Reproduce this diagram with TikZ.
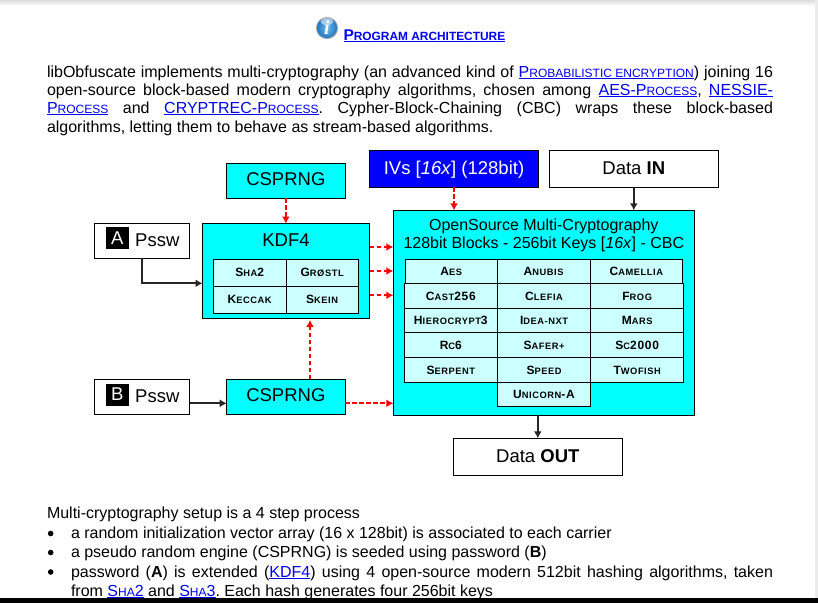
\documentclass[tikz,border=0pt]{standalone}
\usepackage{fontspec}
\setmainfont{Liberation Sans}
\newfontfamily\cellfont[LetterSpace=6]{Liberation Sans}
\newfontfamily\iconfont{Liberation Serif}
\usetikzlibrary{arrows.meta,calc}
\definecolor{cyanbox}{HTML}{00FFFF}
\definecolor{cellfill}{HTML}{CCFFFF}
\definecolor{linkblue}{HTML}{0000F0}
\definecolor{ivblue}{HTML}{0000FF}
\definecolor{iconin}{HTML}{6FBDE8}
\definecolor{iconout}{HTML}{1F74BE}
\newcommand\smallcp[1]{{\fontsize{12}{12}\selectfont #1}}
\newcommand\cellsm[1]{{\fontsize{9.3}{9.3}\selectfont #1}}
\newcommand\lnk[1]{\textcolor{linkblue}{\underline{#1}}}
\newcommand\placebox[7]{%
  \pgfmathsetmacro\bxCX{(#2+#4)/2}%
  \pgfmathsetmacro\bxCY{(#3+#5)/2}%
  \pgfmathsetmacro\bxW{#4-#2}%
  \pgfmathsetmacro\bxH{#5-#3}%
  \node[#6,minimum width=\bxW pt,minimum height=\bxH pt] (#1) at (\bxCX,\bxCY) {#7};}
\tikzset{
  boxbase/.style={draw=black,line width=1pt,inner sep=0pt,outer sep=0pt,align=center},
  whitebox/.style={boxbase,fill=white,text height=13pt,text depth=2pt,font=\fontsize{18.5}{20}\selectfont},
  cyanb/.style={boxbase,fill=cyanbox,text height=13pt,text depth=3.5pt,font=\fontsize{18.5}{20}\selectfont},
  bluebox/.style={boxbase,fill=ivblue,text=white,text height=13pt,text depth=2pt,font=\fontsize{18.5}{20}\selectfont},
  cellb/.style={boxbase,fill=cellfill,font=\cellfont\bfseries\fontsize{12}{12}\selectfont},
  bodytext/.style={anchor=base west,inner sep=0pt,outer sep=0pt,font=\fontsize{16}{18}\selectfont},
  tagbox/.style={fill=black,text=white,inner sep=0pt,minimum width=22.5pt,minimum height=22pt,font=\fontsize{18.5}{20}\selectfont},
  pswtext/.style={anchor=base west,inner sep=0pt,font=\fontsize{18.5}{20}\selectfont},
  redarrow/.style={draw=red,line width=2.3pt,dash pattern=on 4.5pt off 2.5pt,-{Latex[length=7pt,width=8pt]}},
  blackarrow/.style={draw=black!85,line width=2.3pt,-{Latex[length=7pt,width=8pt]}},
}
\begin{document}
\begin{tikzpicture}[x=1pt,y=-1pt]
\frenchspacing
\useasboundingbox (0,0) rectangle (818,603);
\fill[white] (0,0) rectangle (818,603);
\shade[top color=black!14,bottom color=white] (0,0) rectangle (818,6);
\fill[black!8] (815,0) rectangle (818,603);

% icon and title
\shade[inner color=iconin,outer color=iconout,draw=black!35,line width=0.8pt] (327,28) circle (10.6);
\fill[white,opacity=0.55] (327,21.5) ellipse (6.5 and 3.6);
\node[inner sep=0pt,text=white,font=\iconfont\bfseries\itshape\fontsize{20}{20}\selectfont] (icon) at (327,28) {i};
\node[bodytext,font=\bfseries\fontsize{15.5}{16}\selectfont] (title) at (343.5,40)
  {\lnk{P{\fontsize{11.9}{12}\selectfont ROGRAM ARCHITECTURE}}};

% top paragraph
\node[bodytext] (p1) at (47,77) {\makebox[726pt][s]{libObfuscate implements multi-cryptography (an advanced kind of \lnk{P\smallcp{ROBABILISTIC ENCRYPTION}}) joining 16}};
\node[bodytext] (p2) at (47,95) {\makebox[726pt][s]{open-source block-based modern cryptography algorithms, chosen among \lnk{AES-P\smallcp{ROCESS}}, \lnk{NESSIE-}}};
\node[bodytext] (p3) at (47,113) {\makebox[726pt][s]{\lnk{P\smallcp{ROCESS}} and \lnk{CRYPTREC-P\smallcp{ROCESS}}. Cypher-Block-Chaining (CBC) wraps these block-based}};
\node[bodytext] (p4) at (47,132) {algorithms, letting them to behave as stream-based algorithms.};

% diagram boxes
\placebox{csa}{226.7}{163}{345}{198}{cyanb}{CSPRNG}
\placebox{pswa}{94.5}{223}{189.5}{258}{whitebox}{}
\node[tagbox] (taga) at (117.3,238.3) {A};
\node[pswtext] (txta) at (135,246) {Pssw};
\placebox{kdf}{202.5}{223.5}{369.5}{318.5}{cyanb}{}
\node[font=\fontsize{18.5}{20}\selectfont,inner sep=0pt] (kdft) at (286,240) {KDF4};
\placebox{sha}{213.3}{259.3}{286}{286.3}{cellb}{S\cellsm{HA}2}
\placebox{gro}{286}{259.3}{358.3}{286.3}{cellb}{G\cellsm{RØSTL}}
\placebox{kec}{213.3}{286.3}{286}{313.3}{cellb}{K\cellsm{ECCAK}}
\placebox{ske}{286}{286.3}{358.3}{313.3}{cellb}{S\cellsm{KEIN}}
\placebox{ivs}{369.3}{150}{538.7}{187}{bluebox}{IVs [\textit{16x}] (128bit)}
\placebox{din}{549.3}{150}{718.3}{187}{whitebox}{Data \textbf{IN}}
\placebox{big}{393.3}{210.3}{694.3}{415.3}{cyanb}{}
\node[inner sep=0pt,align=center,font=\fontsize{16}{17.6}\selectfont] (bigt) at (543.8,235.5) {OpenSource Multi-Cryptography\\128bit Blocks - 256bit Keys [\textit{16x}] - CBC};

\placebox{aes}{405.3}{259.3}{497.3}{283.7}{cellb}{A\cellsm{ES}}
\placebox{anu}{497.3}{259.3}{590}{283.7}{cellb}{A\cellsm{NUBIS}}
\placebox{cam}{590}{259.3}{682.7}{283.7}{cellb}{C\cellsm{AMELLIA}}
\placebox{cas}{404.3}{283.7}{497.3}{308.3}{cellb}{C\cellsm{AST}256}
\placebox{cle}{497.3}{283.7}{590.7}{308.3}{cellb}{C\cellsm{LEFIA}}
\placebox{fro}{590.7}{283.7}{683.7}{308.3}{cellb}{F\cellsm{ROG}}
\placebox{hie}{404.3}{308.3}{497.3}{332.7}{cellb}{H\cellsm{IEROCRYPT}3}
\placebox{ide}{497.3}{308.3}{590.7}{332.7}{cellb}{I\cellsm{DEA-NXT}}
\placebox{mar}{590.7}{308.3}{683.7}{332.7}{cellb}{M\cellsm{ARS}}
\placebox{rcs}{404.3}{332.7}{497.3}{357.7}{cellb}{R\cellsm{C}6}
\placebox{saf}{497.3}{332.7}{590.7}{357.7}{cellb}{S\cellsm{AFER+}}
\placebox{scs}{590.7}{332.7}{683.7}{357.7}{cellb}{S\cellsm{C}2000}
\placebox{ser}{404.3}{357.7}{497.3}{382.3}{cellb}{S\cellsm{ERPENT}}
\placebox{spe}{497.3}{357.7}{590.7}{382.3}{cellb}{S\cellsm{PEED}}
\placebox{two}{590.7}{357.7}{683.7}{382.3}{cellb}{T\cellsm{WOFISH}}
\placebox{uni}{497.3}{382.3}{590.7}{406.3}{cellb}{U\cellsm{NICORN}-A}

\placebox{out}{453.3}{438.3}{622.3}{475.3}{whitebox}{Data \textbf{OUT}}
\placebox{pswb}{94.5}{379.3}{189.5}{414.3}{whitebox}{}
\node[tagbox] (tagb) at (117.3,394.6) {B};
\node[pswtext] (txtb) at (135,402.3) {Pssw};
\placebox{csb}{226.7}{379.3}{345}{414.3}{cyanb}{CSPRNG}

% connectors
\coordinate (ka) at (142.3,258);
\coordinate (kb) at (142.3,283.3);
\coordinate (k1) at (369.5,247);
\coordinate (k3) at (369.5,295.3);
\coordinate (bb) at (189.5,403.3);
\coordinate (cb) at (310,379.3);
\coordinate (ctop) at (310,320);
\draw[redarrow] (csa.south) -- (csa.south |- kdf.north);
\draw[redarrow] (ivs.south) -- (ivs.south |- big.north);
\draw[blackarrow] (din.south) -- (din.south |- big.north);
\draw[blackarrow] (big.south -| out.north) -- (out.north);
\draw[blackarrow] (ka) -- (kb) -- (kb -| kdf.west);
\draw[blackarrow] (bb) -- (bb -| csb.west);
\draw[redarrow] (cb) -- (ctop);
\draw[redarrow] (k1) -- (k1 -| big.west);
\draw[redarrow] (kdf.east) -- (kdf.east -| big.west);
\draw[redarrow] (k3) -- (k3 -| big.west);
\draw[redarrow] (bb -| csb.east) -- (bb -| big.west);

% lower text
\node[bodytext] (q0) at (47,518) {Multi-cryptography setup is a 4 step process};
\fill (50.7,533.5) circle (2.8);
\node[bodytext] (q1) at (71,538) {a random initialization vector array (16 x 128bit) is associated to each carrier};
\fill (50.7,552.5) circle (2.8);
\node[bodytext] (q2) at (71,557) {a pseudo random engine (CSPRNG) is seeded using password (\textbf{B})};
\fill (50.7,572) circle (2.8);
\node[bodytext] (q3) at (71,577) {\makebox[702pt][s]{password (\textbf{A}) is extended (\lnk{KDF4}) using 4 open-source modern 512bit hashing algorithms, taken}};
\node[bodytext] (q4) at (71,596) {from \lnk{S\smallcp{HA}2} and \lnk{S\smallcp{HA}3}. Each hash generates four 256bit keys};
\fill[black] (0,598) rectangle (818,603);
\end{tikzpicture}
\end{document}
